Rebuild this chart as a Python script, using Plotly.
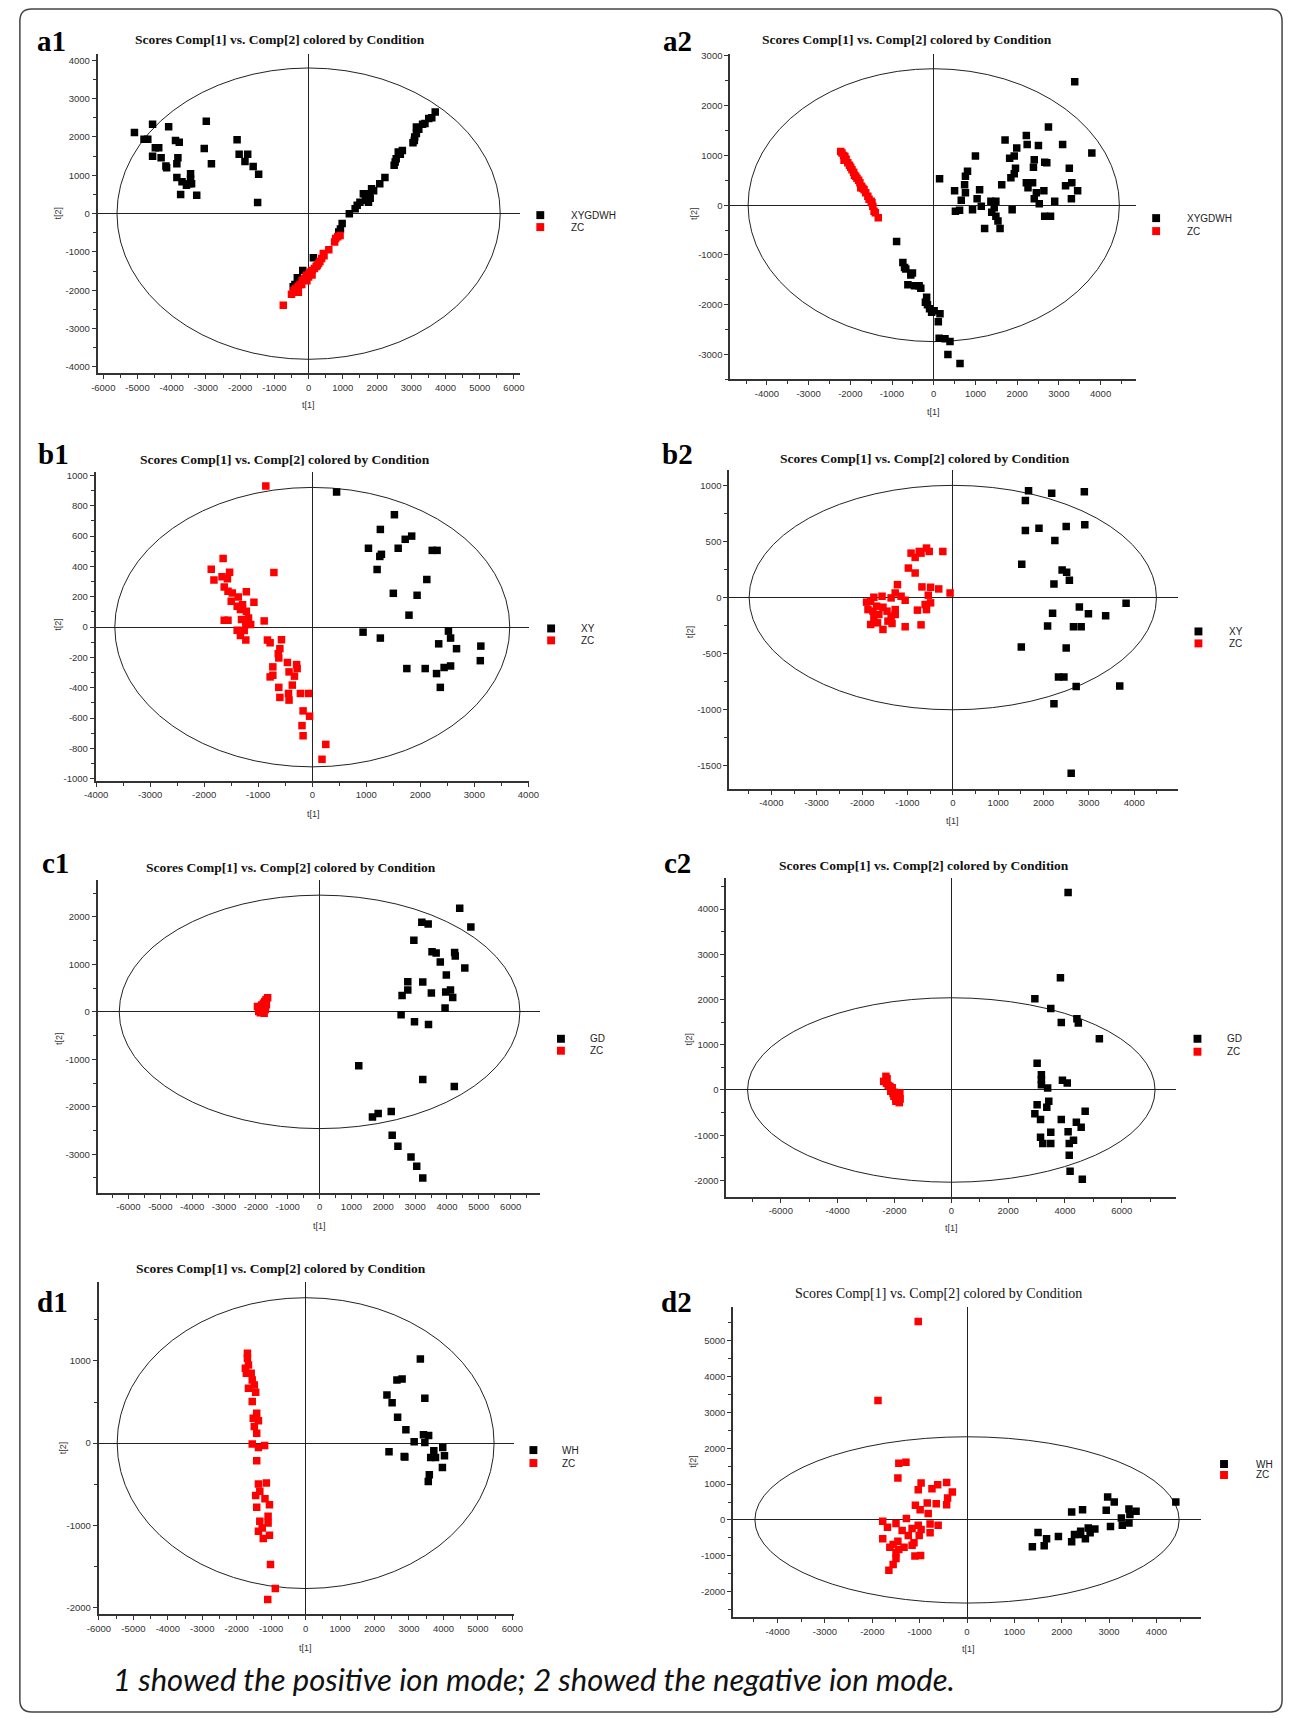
import plotly.graph_objects as go

W, H = 1295, 1720

# ---------------- DATA ----------------
# a1 : positive mode, XYGDWH vs ZC
a1_black_x = [-5090, -4560, -4810, -4090, -2990, -4480, -4560, -4310, -4170, -3890, -3780, -3820, -3850, -3850,
              -3700, -3740, -3570, -3450, -3420, -3270, -3050, -2840, -2090, -2030, -1780, -1860, -1620, -1460,
              -1490, -4700, -4380, -4150, -3450, -3500,
              -450, -330, -170, 140, -250, -400, 880, 980, 930, 1190, 1360, 1420, 1500, 1600, 1660, 1700, 1780,
              1840, 1800, 1900, 1750, 2080, 2230, 2500, 2530, 2560, 2620, 2740, 2680, 3090, 3050, 3150, 3100,
              3150, 3220, 3330, 3400, 3510, 3600, 3700]
a1_black_y = [2120, 2330, 1940, 2270, 2410, 1720, 1500, 1460, 1240, 1910, 1860, 1460, 1300, 940,
              830, 500, 740, 1040, 780, 480, 1700, 1300, 1930, 1550, 1550, 1360, 1230, 1030,
              290, 1940, 1720, 1200, 900, 780,
              -1910, -1670, -1480, -1150, -1750, -1850, -480, -260, -400, 0, 130, 220, 300, 520, 350, 450, 520,
              650, 400, 600, 300, 780, 940, 1260, 1350, 1430, 1610, 1650, 1550, 1910, 1850, 2090, 2000,
              2260, 2200, 2330, 2350, 2480, 2500, 2650]
a1_red_x = [-740, -500, -430, -380, -310, -250, -190, -120, -70, 0, 50, 100, 170, 220, 290, 330, 380, 430, 450,
            590, 760, 790, 920, 850, -50, 0, -200, -300, 100, 250]
a1_red_y = [-2390, -2100, -2000, -1950, -1900, -1850, -1740, -1700, -1610, -1580, -1520, -1480, -1430, -1380,
            -1300, -1250, -1170, -1040, -1100, -940, -740, -650, -570, -600, -1750, -1650, -1850, -2050, -1600, -1350]

# a2 : negative mode, XYGDWH vs ZC
a2_black_x = [-890, -740, -670, -510, -620, -460, -310, -170, -200, -100, 10, 150, 110, 130, 270, 390, 340, 630,
              -700, -550, -150, -50, -350,
              3380, 2750, 2220, 1710, 1990, 2240, 2510, 3090, 3790, 1000, 1820, 1930, 2410, 2660, 2710, 2390,
              1960, 3250, 810, 760, 140, 1930, 1850, 740, 1630, 2220, 2370, 3310, 3160, 2260, 500, 760, 1100,
              2640, 2460, 3450, 660, 1040, 1370, 1490, 2410, 2900, 3300, 2530, 1140, 1450, 520, 620, 930, 1880,
              1390, 1490, 1540, 2660, 2800, 1220, 1590]
a2_black_y = [-730, -1150, -1280, -1360, -1600, -1620, -1670, -1850, -1950, -2080, -2120, -2180, -2340, -2670,
              -2680, -2740, -3000, -3180, -1250, -1400, -2000, -2150, -1620,
              2480, 1570, 1400, 1310, 1150, 1220, 1200, 1220, 1050, 990, 940, 990, 910, 860, 850, 760,
              740, 740, 680, 580, 530, 630, 550, 410, 410, 450, 450, 450, 390, 350, 290, 250, 310,
              290, 250, 290, 100, 130, 80, 80, 130, 80, 130, 30, -20, -50, -120, -100, -90, -90,
              -140, -220, -320, -220, -220, -470, -470]
a2_red_x = [-2230, -2200, -2160, -2130, -2100, -2060, -2020, -1990, -1960, -1920, -1870, -1840, -1800, -1770,
            -1730, -1700, -1670, -1630, -1580, -1550, -1500, -1480, -1460, -1430, -1400, -1330, -2150, -1900, -1750]
a2_red_y = [1080, 1050, 1000, 980, 920, 850, 800, 760, 710, 660, 580, 540, 500, 450,
            380, 340, 310, 250, 180, 120, 80, 50, -20, -120, -150, -250, 900, 600, 350]

# b1 : positive mode, XY vs ZC
b1_black_x = [450, 1520, 1260, 1720, 1840, 1040, 1590, 1280, 1250, 1200, 2220, 2310, 2120, 1500, 1940, 1790,
              940, 1260, 2520, 2560, 2340, 2670, 3120, 3110, 1750, 2090, 2440, 2560, 2300, 2370]
b1_black_y = [891, 741, 644, 579, 600, 520, 520, 480, 466, 380, 506, 506, 314, 223, 210, 79,
              -33, -72, -26, -72, -110, -142, -125, -221, -273, -273, -266, -256, -306, -397]
b1_red_x = [-860, -1650, -1870, -1530, -710, -1820, -1670, -1570, -1630, -1560, -1480, -1220, -1370, -1500,
            -1080, -1290, -1390, -1330, -1220, -1180, -1630, -1560, -1310, -890, -1140, -1230, -1260, -1390,
            -1330, -1230, -830, -780, -570, -600, -630, -620, -290, -460, -280, -730, -730, -780, -430, -330,
            -620, -370, -440, -220, -70, -430, -600, -170, -50, -190, -170, 250, 180]
b1_red_y = [930, 452, 382, 362, 360, 310, 332, 319, 264, 236, 225, 234, 199, 170,
            164, 148, 138, 116, 105, 61, 46, 46, 50, 41, 17, 17, -22, -20,
            -55, -85, -85, -103, -83, -142, -175, -203, -247, -233, -273, -262, -317, -328, -295, -323,
            -397, -382, -437, -437, -437, -481, -463, -552, -587, -649, -716, -773, -871]

# b2 : negative mode, XY vs ZC
b2_black_x = [1670, 2180, 2900, 1600, 1600, 1900, 2500, 2910, 2250, 1520, 2410, 2510, 2570, 2230, 3820,
              2790, 2990, 3370, 2200, 2090, 2660, 2830, 1510, 2500, 2330, 2450, 2720, 3680, 2230, 2610]
b2_black_y = [953, 929, 944, 864, 598, 618, 633, 648, 509, 296, 246, 225, 154, 121, -50,
              -83, -145, -163, -139, -254, -260, -260, -441, -450, -707, -707, -793, -787, -947, -1565]
b2_red_x = [-220, -920, -740, -580, -700, -520, -830, -980, -830, -1220, -680, -490, -310, -60, -1270, -540,
            -1740, -1560, -1360, -1140, -1050, -1900, -1810, -490, -610, -1680, -1540, -1870, -1760, -1450,
            -1270, -780, -580, -1630, -1360, -1270, -1740, -1660, -1430, -1340, -1810, -1050, -700, -1540]
b2_red_y = [411, 396, 411, 441, 396, 411, 358, 263, 219, 115, 95, 92, 77, 41, 41, 21,
            3, 12, -3, 12, -24, -41, -33, -47, -62, -77, -86, -107, -121, -121,
            -107, -112, -107, -151, -166, -151, -180, -225, -210, -231, -240, -260, -243, -284]

# c1 : positive mode, GD vs ZC
c1_black_x = [4400, 3210, 3410, 4750, 2960, 3530, 3660, 4240, 4260, 3790, 4560, 3980, 2770, 3240, 2770, 3510,
              3960, 4110, 2590, 4180, 3940, 2560, 2980, 3420, 1230, 3240, 4230, 2250, 1840, 1660, 2280, 2460,
              2870, 3050, 3240]
c1_black_y = [2182, 1888, 1853, 1790, 1510, 1266, 1238, 1252, 1175, 1049, 923, 776, 636, 629, 462, 399,
              420, 462, 343, 301, 84, -63, -210, -266, -1133, -1427, -1573, -2098, -2140, -2217, -2601, -2832,
              -3056, -3252, -3503]
c1_red_x = [-1630, -1680, -1720, -1760, -1820, -1780, -1950, -1880, -1840, -1910, -1800, -1740, -1700, -1860,
            -1750, -1670]
c1_red_y = [300, 260, 217, 180, 147, 120, 112, 80, 42, 7, 0, -28, 50, -20, 100, 150]

# c2 : negative mode, GD vs ZC
c2_black_x = [4110, 3840, 2940, 3500, 4420, 4470, 3870, 5210, 3020, 3170, 3170, 3170, 3910, 4080, 3390, 3430,
              3020, 3360, 2940, 4710, 3140, 3870, 4400, 4570, 4110, 3500, 3140, 4300, 3220, 3500, 4150, 4150,
              4180, 4610]
c2_black_y = [4367, 2482, 2018, 1804, 1576, 1480, 1495, 1134, 589, 339, 228, 118, 214, 155, 44, -250,
              -324, -383, -523, -471, -655, -655, -714, -825, -921, -935, -1046, -1112, -1186, -1186, -1186, -1443,
              -1797, -1973]
c2_red_x = [-2300, -2260, -2380, -2280, -2220, -2160, -2100, -2130, -2050, -2020, -1950, -1880, -1810, -1850,
            -1950, -1800, -2000, -2080, -1900, -1830]
c2_red_y = [302, 250, 191, 150, 100, 81, 20, -29, -80, -140, -200, -250, -66, -150,
            -250, -200, -50, 50, -100, -280]

# d1 : positive mode, WH vs ZC
d1_black_x = [3330, 2650, 2800, 2360, 2510, 3460, 2670, 2910, 3420, 3570, 3150, 3460, 3980, 3720, 2420, 4030,
              3630, 3770, 2860, 2880, 3970, 3590, 3560]
d1_black_y = [1024, 769, 781, 587, 490, 547, 316, 162, 101, 93, 16, 8, -53, -93, -105, -154,
              -174, -174, -162, -170, -296, -385, -466]
d1_red_x = [-1690, -1690, -1660, -1750, -1580, -1720, -1550, -1490, -1660, -1450, -1550, -1420, -1520, -1370,
            -1490, -1420, -1550, -1370, -1190, -1420, -1370, -1140, -1330, -1450, -1180, -1050, -1420, -1090,
            -1330, -1090, -1260, -1370, -1050, -1230, -1020, -880, -1100]
d1_red_y = [1093, 1032, 951, 911, 850, 850, 769, 709, 668, 619, 506, 364, 304, 271,
            202, 121, -12, -53, -28, -215, -498, -486, -587, -636, -676, -749, -781, -891,
            -951, -972, -1032, -1073, -1121, -1162, -1478, -1769, -1903]

# d2 : negative mode, WH vs ZC
d2_black_x = [4410, 2970, 3110, 2440, 2210, 2940, 3420, 3570, 3440, 3260, 3280, 3420, 3030, 2700, 2560, 2400,
              2270, 2600, 2500, 2210, 1500, 1930, 1680, 1380, 1630, 2380]
d2_black_y = [500, 639, 500, 287, 222, 269, 306, 241, 148, 56, -148, -83, -185, -250, -222, -315,
              -407, -361, -528, -611, -352, -463, -528, -750, -722, -407]
d2_red_x = [-1030, -1880, -1440, -1290, -1460, -970, -1030, -740, -620, -430, -310, -410, -1090, -840, -650,
            -430, -990, -820, -1780, -1280, -1500, -1680, -1030, -780, -610, -1370, -1160, -970, -780, -1240,
            -1010, -1780, -1460, -1120, -1560, -1630, -1330, -1160, -1500, -1440, -1500, -1100, -980, -1560,
            -1650]
d2_red_y = [5537, 3333, 1583, 1611, 1167, 1028, 843, 870, 981, 1046, 778, 611, 407, 472, 454,
            426, 287, 176, -37, 37, -102, -204, -148, -111, -148, -296, -241, -269, -361, -435,
            -435, -528, -593, -639, -685, -759, -759, -704, -917, -824, -1074, -1009, -991, -1241,
            -1407]

# Hotelling ellipse semi-axes [t1, t2]
a1_ellipse = [5600, 3800]
a2_ellipse = [4450, 2740]
b1_ellipse = [3655, 921]
b2_ellipse = [4490, 1000]
c1_ellipse = [6290, 2460]
c2_ellipse = [7170, 2040]
d1_ellipse = [5470, 1770]
d2_ellipse = [4480, 2320]

# tick labels
a1_xticks = [-6000, -5000, -4000, -3000, -2000, -1000, 0, 1000, 2000, 3000, 4000, 5000, 6000]
a1_yticks = [-4000, -3000, -2000, -1000, 0, 1000, 2000, 3000, 4000]
a2_xticks = [-4000, -3000, -2000, -1000, 0, 1000, 2000, 3000, 4000]
a2_yticks = [-3000, -2000, -1000, 0, 1000, 2000, 3000]
b1_xticks = [-4000, -3000, -2000, -1000, 0, 1000, 2000, 3000, 4000]
b1_yticks = [-1000, -800, -600, -400, -200, 0, 200, 400, 600, 800, 1000]
b2_xticks = [-4000, -3000, -2000, -1000, 0, 1000, 2000, 3000, 4000]
b2_yticks = [-1500, -1000, -500, 0, 500, 1000]
c1_xticks = [-6000, -5000, -4000, -3000, -2000, -1000, 0, 1000, 2000, 3000, 4000, 5000, 6000]
c1_yticks = [-3000, -2000, -1000, 0, 1000, 2000]
c2_xticks = [-6000, -4000, -2000, 0, 2000, 4000, 6000]
c2_yticks = [-2000, -1000, 0, 1000, 2000, 3000, 4000]
d1_xticks = [-6000, -5000, -4000, -3000, -2000, -1000, 0, 1000, 2000, 3000, 4000, 5000, 6000]
d1_yticks = [-2000, -1000, 0, 1000]
d2_xticks = [-4000, -3000, -2000, -1000, 0, 1000, 2000, 3000, 4000]
d2_yticks = [-2000, -1000, 0, 1000, 2000, 3000, 4000, 5000]

panel_labels = ["a1", "a2", "b1", "b2", "c1", "c2", "d1", "d2"]
group_names = ["XYGDWH", "XYGDWH", "XY", "XY", "GD", "GD", "WH", "WH"]
control_name = "ZC"
plot_title = "Scores Comp[1] vs. Comp[2] colored by Condition"
caption = "1 showed the positive ion mode; 2 showed the negative ion mode."

# ---------------- LAYOUT (pixel geometry) ----------------
panels = [
    dict(bx=a1_black_x, by=a1_black_y, rx=a1_red_x, ry=a1_red_y, ell=a1_ellipse, xt=a1_xticks, yt=a1_yticks,
         box=(87, 516, 50, 371), xr=[-6167, 6167], yr=[-4170, 4170],
         lab=(25, 37), title=(272, 36, True), leg=(537, 212, 224, 566), xtit=(301, 403), ytit=(47, 210)),
    dict(bx=a2_black_x, by=a2_black_y, rx=a2_red_x, ry=a2_red_y, ell=a2_ellipse, xt=a2_xticks, yt=a2_yticks,
         box=(730, 1143, 50, 377), xr=[-4880, 4860], yr=[-3500, 3040],
         lab=(662, 37), title=(910, 36, True), leg=(1163, 215, 228, 1192), xtit=(937, 410), ytit=(693, 210)),
    dict(bx=b1_black_x, by=b1_black_y, rx=b1_red_x, ry=b1_red_y, ell=b1_ellipse, xt=b1_xticks, yt=b1_yticks,
         box=(85, 526, 470, 780), xr=[-4010, 4020], yr=[-1013, 1022],
         lab=(26, 452), title=(278, 457, True), leg=(548, 627, 639, 576), xtit=(306, 813), ytit=(47, 623)),
    dict(bx=b2_black_x, by=b2_black_y, rx=b2_red_x, ry=b2_red_y, ell=b2_ellipse, xt=b2_xticks, yt=b2_yticks,
         box=(729, 1185, 468, 788), xr=[-4930, 4960], yr=[-1704, 1136],
         lab=(661, 452), title=(928, 456, True), leg=(1206, 630, 642, 1235), xtit=(956, 820), ytit=(690, 630)),
    dict(bx=c1_black_x, by=c1_black_y, rx=c1_red_x, ry=c1_red_y, ell=c1_ellipse, xt=c1_xticks, yt=c1_yticks,
         box=(87, 537, 880, 1194), xr=[-6970, 6930], yr=[-3820, 2770],
         lab=(30, 863), title=(284, 867, True), leg=(558, 1039, 1051, 586), xtit=(313, 1227), ytit=(48, 1039)),
    dict(bx=c2_black_x, by=c2_black_y, rx=c2_red_x, ry=c2_red_y, ell=c2_ellipse, xt=c2_xticks, yt=c2_yticks,
         box=(726, 1183, 878, 1198), xr=[-7920, 7900], yr=[-2370, 4680],
         lab=(663, 863), title=(927, 865, True), leg=(1205, 1039, 1052, 1233), xtit=(955, 1229), ytit=(688, 1039)),
    dict(bx=d1_black_x, by=d1_black_y, rx=d1_red_x, ry=d1_red_y, ell=d1_ellipse, xt=d1_xticks, yt=d1_yticks,
         box=(88, 510, 1283, 1617), xr=[-6010, 6040], yr=[-2085, 1964],
         lab=(25, 1303), title=(273, 1270, True), leg=(530, 1452, 1465, 557), xtit=(298, 1651), ytit=(52, 1450)),
    dict(bx=d2_black_x, by=d2_black_y, rx=d2_red_x, ry=d2_red_y, ell=d2_ellipse, xt=d2_xticks, yt=d2_yticks,
         box=(733, 1209, 1308, 1620), xr=[-4940, 4950], yr=[-2720, 5950],
         lab=(660, 1303), title=(942, 1295, False), leg=(1232, 1466, 1477, 1262), xtit=(972, 1652), ytit=(692, 1463)),
]


def px(xp):
    return xp / W


def py(yp):
    return 1 - yp / H


AX = "#333333"
TICKFONT = dict(family="Liberation Sans, Arial, sans-serif", size=9.5, color="#333333")

fig = go.Figure()
layout = dict(width=W, height=H, margin=dict(l=0, r=0, t=0, b=0), paper_bgcolor="white",
              plot_bgcolor="white", showlegend=False)
shapes = []
annotations = []


def minor_vals(ticks):
    step = ticks[1] - ticks[0]
    vals = [t + step / 2 for t in ticks[:-1]]
    vals = [ticks[0] - step / 2] + vals + [ticks[-1] + step / 2]
    return vals


for i, p in enumerate(panels):
    k = "" if i == 0 else str(i + 1)
    xref, yref = "x" + k, "y" + k
    L, R, T, B = p["box"]
    common = dict(showgrid=False, zeroline=True, zerolinecolor="#222222", zerolinewidth=1.2,
                  showline=True, linecolor=AX, linewidth=1.6, ticks="outside", ticklen=4, tickwidth=1,
                  tickcolor=AX, tickfont=TICKFONT, fixedrange=True, tickmode="array")
    layout["xaxis" + k] = dict(common, domain=[px(L), px(R)], range=p["xr"], anchor=yref,
                               tickvals=p["xt"], ticktext=[str(v) for v in p["xt"]],
                               minor=dict(tickmode="array", tickvals=minor_vals(p["xt"]), ticks="outside",
                                          ticklen=3, tickwidth=1, tickcolor=AX))
    layout["yaxis" + k] = dict(common, domain=[py(B), py(T)], range=p["yr"], anchor=xref,
                               tickvals=p["yt"], ticktext=[str(v) for v in p["yt"]],
                               minor=dict(tickmode="array", tickvals=minor_vals(p["yt"]), ticks="outside",
                                          ticklen=3, tickwidth=1, tickcolor=AX))

    fig.add_trace(go.Scatter(x=p["bx"], y=p["by"], mode="markers", xaxis=xref, yaxis=yref,
                             marker=dict(symbol="square", size=7.5, color="#000000", line=dict(width=0)),
                             name=group_names[i]))
    fig.add_trace(go.Scatter(x=p["rx"], y=p["ry"], mode="markers", xaxis=xref, yaxis=yref,
                             marker=dict(symbol="square", size=7.5, color="#ff0000", line=dict(width=0)),
                             name=control_name))

    ea, eb = p["ell"]
    shapes.append(dict(type="circle", xref=xref, yref=yref, x0=-ea, x1=ea, y0=-eb, y1=eb,
                       line=dict(color="#222222", width=1), layer="below"))

    # legend
    sx, sy1, sy2, tx = p["leg"]
    for sy, col, txt in [(sy1, "#000000", group_names[i]), (sy2, "#ff0000", control_name)]:
        shapes.append(dict(type="rect", xref="paper", yref="paper", x0=px(sx - 4), x1=px(sx + 4),
                           y0=py(sy + 4), y1=py(sy - 4), fillcolor=col, line=dict(width=0)))
        annotations.append(dict(x=px(tx), y=py(sy), xref="paper", yref="paper", text=txt, showarrow=False,
                                xanchor="left", yanchor="middle",
                                font=dict(family="Liberation Sans, Arial, sans-serif", size=10, color="#222222")))

    # panel label
    lx, ly = p["lab"]
    annotations.append(dict(x=px(lx - 2), y=py(ly), xref="paper", yref="paper", text="<b>%s</b>" % panel_labels[i],
                            showarrow=False, xanchor="left", yanchor="middle",
                            font=dict(family="Liberation Serif, Times New Roman, serif", size=29, color="#000000")))
    # title
    tx_, ty_, bold = p["title"]
    annotations.append(dict(x=px(tx_), y=py(ty_), xref="paper", yref="paper",
                            text=("<b>%s</b>" % plot_title) if bold else plot_title,
                            showarrow=False, xanchor="center", yanchor="middle",
                            font=dict(family="Liberation Serif, Times New Roman, serif",
                                      size=13.5 if bold else 14, color="#111111")))
    # axis titles
    xtx, xty = p["xtit"]
    annotations.append(dict(x=px(xtx), y=py(xty), xref="paper", yref="paper", text="t[1]", showarrow=False,
                            xanchor="center", yanchor="middle",
                            font=dict(family="Liberation Sans, Arial, sans-serif", size=9, color="#333333")))
    ytx, yty = p["ytit"]
    annotations.append(dict(x=px(ytx), y=py(yty), xref="paper", yref="paper", text="t[2]", showarrow=False,
                            xanchor="center", yanchor="middle", textangle=-90,
                            font=dict(family="Liberation Sans, Arial, sans-serif", size=9, color="#333333")))

# caption
annotations.append(dict(x=px(101), y=py(1682), xref="paper", yref="paper", text="<i>%s</i>" % caption,
                        showarrow=False, xanchor="left", yanchor="middle",
                        font=dict(family="Lato, Noto Sans, sans-serif", size=31, color="#111111")))

# rounded outer border
x0, x1, y0, y1, r = 8, 1291, 5, 1715, 12


def P(xp, yp):
    return "%.5f,%.5f" % (px(xp), py(yp))


path = ("M " + P(x0 + r, y0) + " L " + P(x1 - r, y0) + " Q " + P(x1, y0) + " " + P(x1, y0 + r) +
        " L " + P(x1, y1 - r) + " Q " + P(x1, y1) + " " + P(x1 - r, y1) +
        " L " + P(x0 + r, y1) + " Q " + P(x0, y1) + " " + P(x0, y1 - r) +
        " L " + P(x0, y0 + r) + " Q " + P(x0, y0) + " " + P(x0 + r, y0) + " Z")
shapes.append(dict(type="path", xref="paper", yref="paper", path=path, line=dict(color="#444444", width=1.5)))

layout["shapes"] = shapes
layout["annotations"] = annotations
fig.update_layout(**layout)
fig.write_html("out.html")
